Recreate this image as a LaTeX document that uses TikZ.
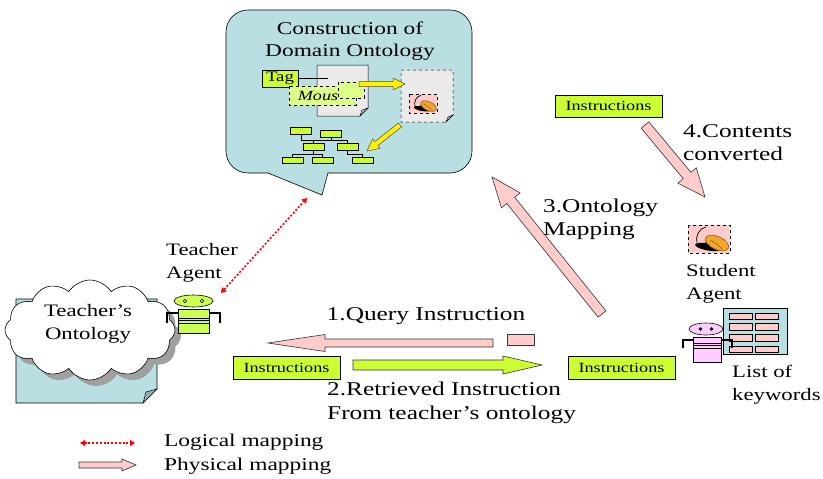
\documentclass[tikz,border=0pt]{standalone}
\usepackage{fontspec}
\setmainfont{Liberation Serif}[FakeStretch=1.3]
\usetikzlibrary{calc,shapes.symbols,arrows.meta}

\definecolor{cBlue}{HTML}{B9DFE3}
\definecolor{cLime}{HTML}{CCFF33}
\definecolor{cLimeLight}{HTML}{DDFF88}
\definecolor{cRobotGreen}{HTML}{CCFF55}
\definecolor{cPink}{HTML}{FFCCCC}
\definecolor{cRobotPink}{HTML}{FFCCFF}
\definecolor{cPage}{HTML}{EAEAEA}
\definecolor{cOrange}{HTML}{F5A52A}
\definecolor{cShadow}{HTML}{A0A0A0}

% block arrow: [style]{tail}{tip}{half body width}{half head width}{head length}
\newcommand{\blockarrow}[6][]{%
  \coordinate (ba-h) at ($(#3)!#6!(#2)$);
  \draw[#1] ($(#2)!#4!90:(#3)$) -- ($(ba-h)!#4!90:(#3)$) -- ($(ba-h)!#5!90:(#3)$)
    -- (#3) -- ($(ba-h)!#5!-90:(#3)$) -- ($(ba-h)!#4!-90:(#3)$)
    -- ($(#2)!#4!-90:(#3)$) -- cycle;}

\tikzset{
  lbl/.style={inner sep=0, font=\fontsize{19.5}{23.5}\selectfont, align=left},
  sublbl/.style={inner sep=0, font=\fontsize{17.5}{23}\selectfont, align=left},
  instr/.style={draw, fill=cLime, line width=0.6pt, font=\fontsize{14}{16}\selectfont,
    minimum width=107, minimum height=23, inner sep=0},
  pinkarrow/.style={draw=black!80, fill=cPink, line width=0.6pt},
  greenarrow/.style={draw=black!80, fill=cLime, line width=0.6pt},
  yellowarrow/.style={draw=black!70, fill=yellow, line width=0.5pt},
  logical/.style={red, line width=1.6pt, dash pattern=on 2pt off 1.8pt,
    {Triangle[length=5pt,width=6pt]}-{Triangle[length=5pt,width=6pt]}},
  orgbox/.style={draw, fill=cLime, line width=0.5pt, minimum width=21,
    minimum height=6.5, inner sep=0},
  cloudshape/.style={cloud, cloud puffs=12, cloud puff arc=115, aspect=1.7,
    minimum width=170, minimum height=100, inner sep=0},
  mouseicon/.pic={
    \draw[dashed, fill=cPink, line width=0.5pt] (0,0) rectangle (42,28);
    \fill[black, rotate around={-10:(20,22)}] (20,22) ellipse [x radius=13, y radius=3.5];
    \draw[line width=0.7pt] (18,2) .. controls (11,3) and (7,12) .. (9,18)
      .. controls (11,23) and (17,19) .. (22,14);
    \draw[fill=cOrange, draw=brown!60!black, line width=0.5pt,
      rotate around={-25:(29,18)}] (29,18) ellipse [x radius=12.5, y radius=6.5];
    \draw[brown!60!black, line width=0.4pt] (22,15) .. controls (27,17) and (31,21) .. (34,24);
  },
}

\begin{document}
\begin{tikzpicture}[x=1pt, y=-1pt]
\useasboundingbox (0,0) rectangle (823,479);
\fill[white] (0,0) rectangle (823,479);

% ---------- callout: construction of the domain ontology ----------
\coordinate (ct) at (322,195);
\draw[fill=cBlue, line width=0.6pt, rounded corners=22pt] (226,10) rectangle (472,173);
\fill[cBlue] (268.3,170) -- (327.7,170) -- (327.7,173) -- (ct) -- (268.3,173) -- cycle;
\draw[line width=0.6pt, line join=miter] (268,173) -- (ct) -- (328,173);
\node[sublbl, align=center, font=\fontsize{18}{22}\selectfont] (ctitle) at (350,41)
  {Construction of\\Domain Ontology};

% source page with tag
\draw[fill=cPage, line width=0.5pt] (317,65) -- (368,65) -- (368,108) -- (360,116) -- (317,116) -- cycle;
\draw[fill=cPage!80!black, line width=0.4pt] (360,116) -- (362,110) -- (368,108) -- cycle;
\draw[line width=0.5pt] (298,78) -- (328,78);
\node[draw, fill=cLime, line width=0.6pt, minimum width=36, minimum height=17, inner sep=0,
  font=\fontsize{14.5}{15}\selectfont] (tag) at (280,78.5) {Tag};
\draw[dashed, fill=cLimeLight, line width=0.5pt] (289,86) rectangle (356,105);
\draw[dashed, fill=cLimeLight, line width=0.5pt] (338,82) rectangle (364,98);
\node[inner sep=0, font=\fontsize{14}{15}\selectfont\itshape] (mous) at (318,95.5) {Mous};

% annotated page
\draw[dashed, fill=cPage, line width=0.5pt] (401,70) -- (453,70) -- (453,115) -- (446,122) -- (401,122) -- cycle;
\draw[fill=cPage!80!black, line width=0.4pt] (446,122) -- (448,117) -- (453,115) -- cycle;
\pic[scale=0.67] at (409,94) {mouseicon};

\coordinate (ya1) at (359,84);
\coordinate (ya2) at (405,84);
\blockarrow[yellowarrow]{ya1}{ya2}{2.5pt}{6pt}{12pt}
\coordinate (yb1) at (400,125);
\coordinate (yb2) at (367,151);
\blockarrow[yellowarrow]{yb1}{yb2}{2.5pt}{6pt}{12pt}

% ontology tree
\node[orgbox] (oA) at (301,130.5) {};
\node[orgbox] (oB) at (331,133.5) {};
\node[orgbox] (oC) at (313.5,146.5) {};
\node[orgbox] (oD) at (347.5,146.5) {};
\node[orgbox] (oE) at (292.5,160) {};
\node[orgbox] (oF) at (322.5,160) {};
\node[orgbox] (oG) at (362.5,160) {};
\coordinate (bus1) at (0,140.5);
\coordinate (bus2) at (0,154);
\draw[line width=0.5pt] (oA.south) |- (bus1 -| oD.north) -- (oD.north);
\draw[line width=0.5pt] (oB.south) -- (oB.south |- bus1);
\draw[line width=0.5pt] (oC.north) -- (oC.north |- bus1);
\draw[line width=0.5pt] (oC.south) -- (oC.south |- bus2);
\draw[line width=0.5pt] (oE.north) |- (bus2 -| oF.north) -- (oF.north);
\draw[line width=0.5pt] (oD.south) |- (bus2 -| oG.north) -- (oG.north);

% ---------- teacher side ----------
\draw[fill=cBlue, line width=0.6pt] (16,299) -- (157,299) -- (157,389) -- (143,403) -- (16,403) -- cycle;
\draw[fill=cBlue!80!black, line width=0.5pt] (143,403) -- (146,392) -- (157,389) -- cycle;
\node[cloudshape, fill=cShadow] (tshadow) at (96,336) {};
\node[cloudshape, fill=white, draw, line width=0.6pt] (tonto) at (90,330) {};
\node[sublbl, align=center] (tontotext) at (88,324) {Teacher’s\\Ontology};

\node[sublbl, anchor=west] (tagent) at (166,262.5) {Teacher\\Agent};
% teacher robot
\draw[line width=1.2pt] (178,313) -- (167,313) -- (167,322);
\draw[line width=1.2pt] (209,313) -- (220,313) -- (220,322);
\fill (167,322) circle (1.3) (220,322) circle (1.3);
\draw[fill=cRobotGreen, line width=0.6pt] (178,309) rectangle (209,333);
\draw[line width=0.5pt] (178,318) -- (209,318) (178,320.5) -- (209,320.5) (178,323) -- (209,323);
\draw[fill=cRobotGreen, line width=0.6pt] (193.5,301) ellipse [x radius=19.5, y radius=6];
\draw[line width=0.6pt] (185,301) circle (1.8) (202,301) circle (1.8);
\coordinate (ta) at (221,293);

% logical link
\draw[logical] (ta) -- ($(ct)+(-15,3)$);

% ---------- instruction flow ----------
\node[instr] (instrL) at (286.5,368) {Instructions};
\node[instr] (instrR) at (621.5,368) {Instructions};
\node[instr, minimum height=22] (instrT) at (608.5,106) {Instructions};

\node[lbl, anchor=center] (q1label) at (426,316) {1.Query Instruction};
\coordinate (qa1) at (493,343);
\coordinate (qa2) at (268,343);
\blockarrow[pinkarrow]{qa1}{qa2}{4pt}{8.5pt}{57pt}
\node[draw=black!80, fill=cPink, line width=0.6pt, minimum width=27, minimum height=11,
  inner sep=0] (qstub) at (520.5,339.5) {};

\coordinate (ga1) at (353,365);
\coordinate (ga2) at (542,365);
\blockarrow[greenarrow]{ga1}{ga2}{5pt}{9pt}{39pt}
\node[lbl, anchor=west] (q2label) at (327,403) {2.Retrieved Instruction\\From teacher’s ontology};

\coordinate (m1) at (602,314);
\coordinate (m2) at (492,177);
\blockarrow[pinkarrow]{m1}{m2}{5pt}{12pt}{30pt}
\node[lbl, anchor=west] (q3label) at (543,219.5) {3.Ontology\\Mapping};

\coordinate (c1) at (645,125);
\coordinate (c2) at (705,197);
\blockarrow[pinkarrow]{c1}{c2}{5pt}{12pt}{28pt}
\node[lbl, anchor=west] (q4label) at (683,142.5) {4.Contents\\converted};

% ---------- student side ----------
\pic at (688,225) {mouseicon};
\node[sublbl, anchor=west] (sagent) at (686,283.5) {Student\\Agent};

\draw[fill=cBlue, line width=0.6pt] (723,308) rectangle (787,354);
\foreach \y in {313,323.5,334.5,346}{
  \draw[fill=cPink, line width=0.6pt] (729,\y) rectangle (752,\y+6.5);
  \draw[fill=cPink, line width=0.6pt] (755,\y) rectangle (778,\y+6.5);
}
% student robot
\draw[line width=1.2pt] (693,340) -- (683,340) -- (683,347);
\draw[line width=1.2pt] (721,340) -- (732,340) -- (732,347);
\fill (683,347) circle (1.3) (732,347) circle (1.3);
\draw[fill=cRobotPink, line width=0.6pt] (693,337) rectangle (721,362);
\draw[line width=0.5pt] (693,343) -- (721,343) (693,345.5) -- (721,345.5) (693,348) -- (721,348);
\draw[fill=cRobotPink, line width=0.6pt] (706,329) ellipse [x radius=17, y radius=6];
\fill (700.5,329) circle (1.9) (711.5,329) circle (1.9);

\node[sublbl, anchor=west] (keywords) at (732,384.5) {List of\\keywords};

% ---------- legend ----------
\coordinate (l1a) at (80,443);
\coordinate (l1b) at (135,443);
\draw[logical] (l1a) -- (l1b);
\node[sublbl, anchor=west, font=\fontsize{18}{20}\selectfont] (leg1) at (164,442) {Logical mapping};
\coordinate (l2a) at (79,465);
\coordinate (l2b) at (136,465);
\blockarrow[pinkarrow]{l2a}{l2b}{3pt}{6pt}{14pt}
\node[sublbl, anchor=west, font=\fontsize{18}{20}\selectfont] (leg2) at (164,466) {Physical mapping};
\end{tikzpicture}
\end{document}
